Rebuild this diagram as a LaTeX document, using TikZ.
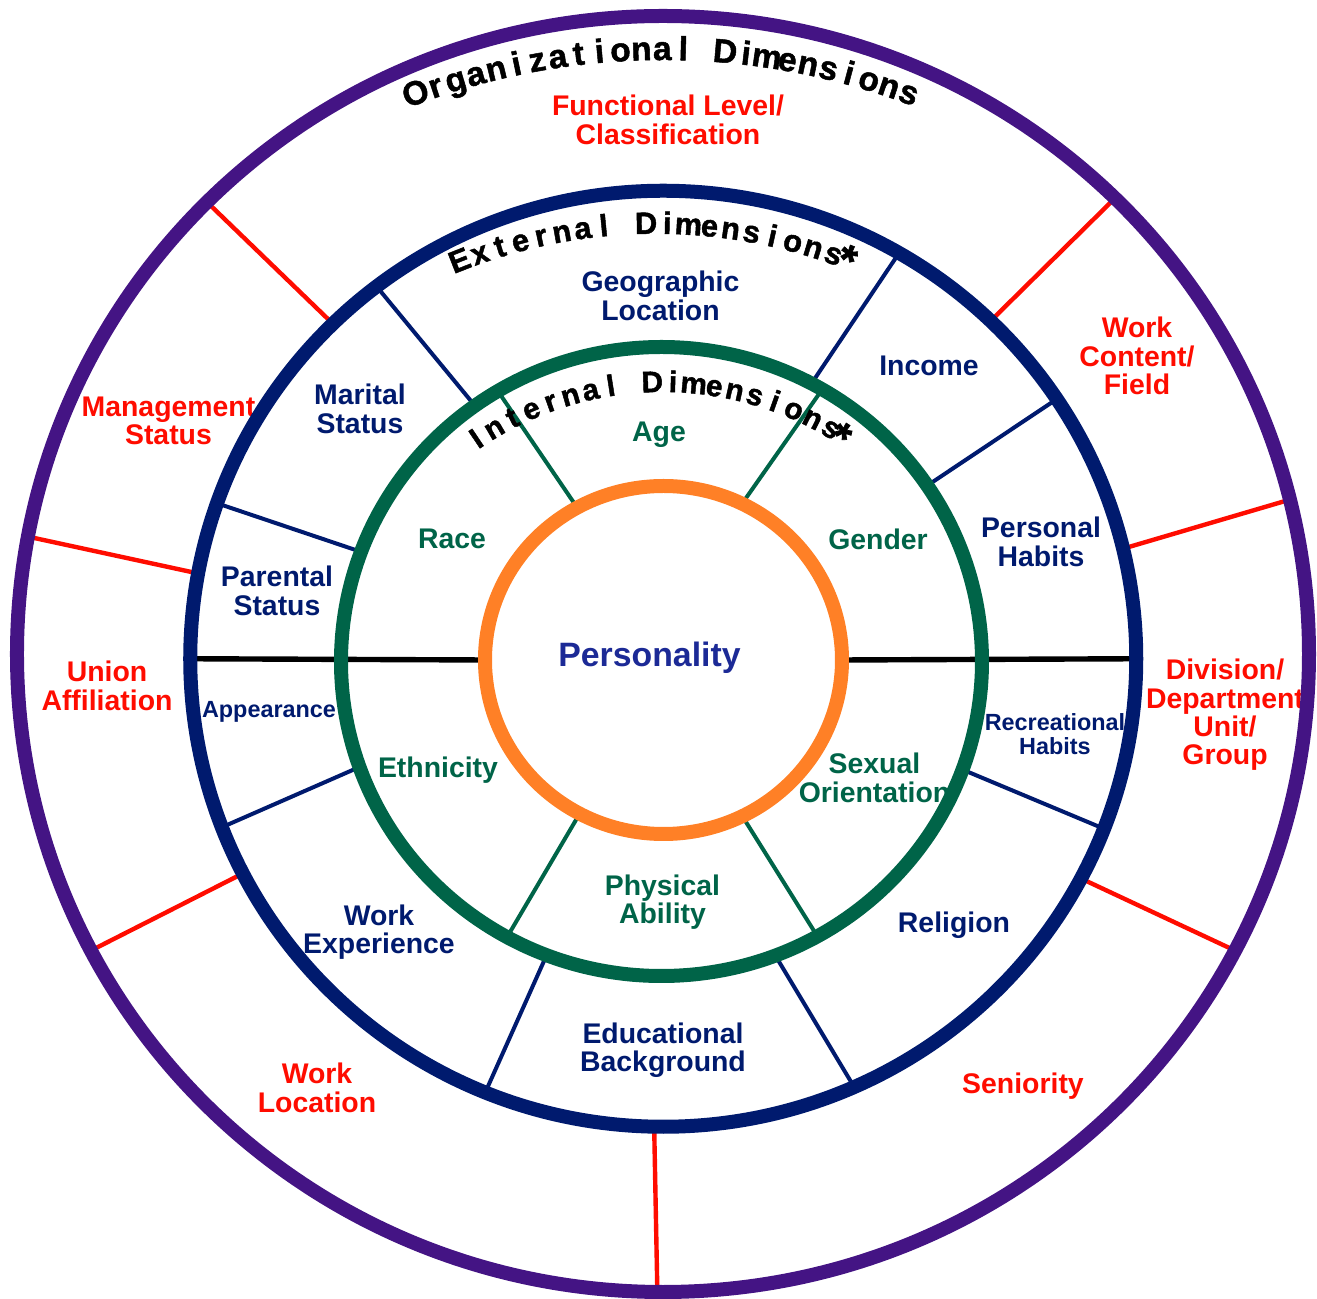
\documentclass[tikz,border=0pt]{standalone}
\usepackage{fontspec}
\setmainfont{Liberation Sans}
\newfontfamily\ttlfamily[FakeBold=1.5]{Liberation Sans Bold}
\usetikzlibrary{calc}

\definecolor{wheelpurple}{RGB}{68,20,132}
\definecolor{wheelnavy}{RGB}{0,26,110}
\definecolor{wheelgreen}{RGB}{0,100,72}
\definecolor{wheelorange}{RGB}{255,128,38}
\definecolor{wheelred}{RGB}{255,12,0}
\definecolor{persblue}{RGB}{28,42,150}

\newcommand{\lblfont}{\fontsize{14.2}{14.2}\selectfont\bfseries}
\newcommand{\lblsmall}{\fontsize{11.7}{12}\selectfont\bfseries}
\newcommand{\persfont}{\fontsize{16.9}{18}\selectfont\bfseries}
\newcommand{\orgttl}{\ttlfamily\fontsize{16.7}{18}\selectfont}
\newcommand{\extttl}{\ttlfamily\fontsize{15.4}{17}\selectfont}
\newcommand{\intttl}{\ttlfamily\fontsize{14.9}{16}\selectfont}
\newcommand{\starfont}{\ttlfamily\fontsize{22}{22}\selectfont}

% letters set one by one on an arc: centre, radius, from, to, font, letters, name
\newcommand{\arctitle}[7]{%
  \gdef\ttlsum{0}\gdef\ttlcount{0}%
  \foreach \ch in {#6} {%
    \setbox0=\hbox{#5\ch}%
    \pgfmathsetmacro\tmp{\ttlsum+2*\the\wd0}\xdef\ttlsum{\tmp}%
    \pgfmathsetmacro\tmp{\ttlcount+1}\xdef\ttlcount{\tmp}%
  }%
  \pgfmathsetmacro\tmp{(#2*((#3-#4)/180*pi)-\ttlsum)/(\ttlcount-1)}\xdef\ttlgap{\tmp}%
  \xdef\ttlang{#3}%
  \foreach \ch [count=\k] in {#6} {%
    \setbox0=\hbox{#5\ch}%
    \pgfmathsetmacro\ttlmid{\ttlang-\the\wd0/#2*180/pi}%
    \node[font=#5,inner sep=0pt,anchor=base,rotate=\ttlmid-90] (#7\k) at ($(#1)+(\ttlmid:#2)$) {\ch};
    \pgfmathsetmacro\tmp{\ttlang-(2*\the\wd0+\ttlgap)/#2*180/pi}\xdef\ttlang{\tmp}%
  }%
}

\begin{document}
\begin{tikzpicture}[x=0.5pt,y=0.5pt,
    orglbl/.style={text=wheelred,font=\lblfont,align=center},
    extlbl/.style={text=wheelnavy,font=\lblfont,align=center},
    extsmall/.style={text=wheelnavy,font=\lblsmall,align=center},
    intlbl/.style={text=wheelgreen,font=\lblfont,align=center},
    ring/.style={line width=7pt},
    redspoke/.style={wheelred,line width=2.2pt},
    navyspoke/.style={wheelnavy,line width=2pt},
    greenspoke/.style={wheelgreen,line width=2pt},
    midline/.style={black,line width=2.7pt},
    starmark/.style={font=\starfont,inner sep=0pt}]
  \useasboundingbox (-662,-641) rectangle (655,658);
  \coordinate (cP) at (1,4);
  \coordinate (cB) at (1.25,-0.75);
  \coordinate (cG) at (-0.5,-3.5);
  \coordinate (cO) at (1.5,-2);
  \coordinate (tP) at ($(cP)+(0,-108)$);
  \coordinate (tB) at ($(cB)+(-7.5,-101)$);
  \coordinate (tG) at ($(cG)+(1,-54.5)$);

  % organizational
  \node[orglbl] (funclvl) at (6,538) {Functional Level/\\Classification};
  \node[orglbl] (mgmt) at (-493.5,237) {Management\\Status};
  \node[orglbl] (content) at (475,302) {Work\\Content/\\Field};
  \node[orglbl] (union) at (-555,-28) {Union\\Affiliation};
  \node[orglbl] (division) at (563,-57) {Division/\\Department\\Unit/\\Group};
  \node[orglbl] (worklocn) at (-345,-430) {Work\\Location};
  \node[orglbl] (senior) at (361,-428) {Seniority};
  % external
  \node[extlbl] (geo) at (-1.5,362) {Geographic\\Location};
  \node[extlbl] (income) at (267,292) {Income};
  \node[extlbl] (marital) at (-302,249) {Marital\\Status};
  \node[extlbl] (perhabits) at (379,116) {Personal\\Habits};
  \node[extlbl] (parental) at (-385,67) {Parental\\Status};
  \node[extsmall] (appear) at (-393,-54) {Appearance};
  \node[extsmall] (rechabits) at (393,-76) {Recreational\\Habits};
  \node[extlbl] (workexp) at (-283,-274) {Work\\Experience};
  \node[extlbl] (religion) at (292,-267) {Religion};
  \node[extlbl] (edu) at (1,-392) {Educational\\Background};
  % internal
  \node[intlbl] (age) at (-3,223) {Age};
  \node[intlbl] (race) at (-210,119) {Race};
  \node[intlbl] (gender) at (216,119) {Gender};
  \node[intlbl] (ethnic) at (-224,-112) {Ethnicity};
  \node[intlbl] (sexual) at (212.5,-120) {Sexual\\Orientation};
  \node[intlbl] (physical) at (0.5,-244) {Physical\\Ability};
  \node[text=persblue,font=\persfont] (person) at (-12.5,0.5) {Personality};

  \foreach \a/\b in {118.9/120.7,63.9/59.9,242/241.2,-63.8/-60.9}
    \draw[greenspoke] ($(cO)+(\a:178.5 and 174)$) -- ($(cG)+(\b:320.5 and 314.5)$);
  \foreach \a/\b in {125.6/127.3,159.6/160.6,62.1/60.1,34/33.7,-20.1/-21.3,-69.2/-66.2,-111/-112.1,-160.4/-158.9}
    \draw[navyspoke] ($(cG)+(\a:320.5 and 314.5)$) -- ($(cB)+(\b:473 and 468)$);
  \foreach \a/\b in {134.3/134.9,169.5/169.4,-152.7/-152.3,-91.1/-90.5,-28/-27.7,13.6/14,46.2/45.6}
    \draw[redspoke] ($(cB)+(\a:473 and 468)$) -- ($(cP)+(\b:646 and 638)$);
  \draw[midline] ($(cB)+(180:473 and 468)$) -- ($(cO)+(180:178.5 and 174)$);
  \draw[midline] ($(cO)+(0:178.5 and 174)$) -- ($(cB)+(0:473 and 468)$);

  \draw[ring,wheelpurple] (cP) ellipse [x radius=646,y radius=638];
  \draw[ring,wheelnavy] (cB) ellipse [x radius=473,y radius=468];
  \draw[ring,wheelgreen] (cG) ellipse [x radius=320.5,y radius=314.5];
  \draw[ring,wheelorange] (cO) ellipse [x radius=178.5,y radius=174];

  \arctitle{tP}{702}{110.3}{69.8}{\orgttl}{O,r,g,a,n,i,z,a,t,i,o,n,a,l,~,D,i,m,e,n,s,i,o,n,s}{orgch}
  \arctitle{tB}{526}{111.45}{70.6}{\extttl}{E,x,t,e,r,n,a,l,~,D,i,m,e,n,s,i,o,n,s}{extch}
  \arctitle{tG}{324}{123.9}{59.6}{\intttl}{I,n,t,e,r,n,a,l,~,D,i,m,e,n,s,i,o,n,s}{intch}
  \node[starmark,rotate=-20.7] (extstar) at (185,398) {*};
  \node[starmark,rotate=-32.2] (intstar) at (178,221) {*};
\end{tikzpicture}
\end{document}
